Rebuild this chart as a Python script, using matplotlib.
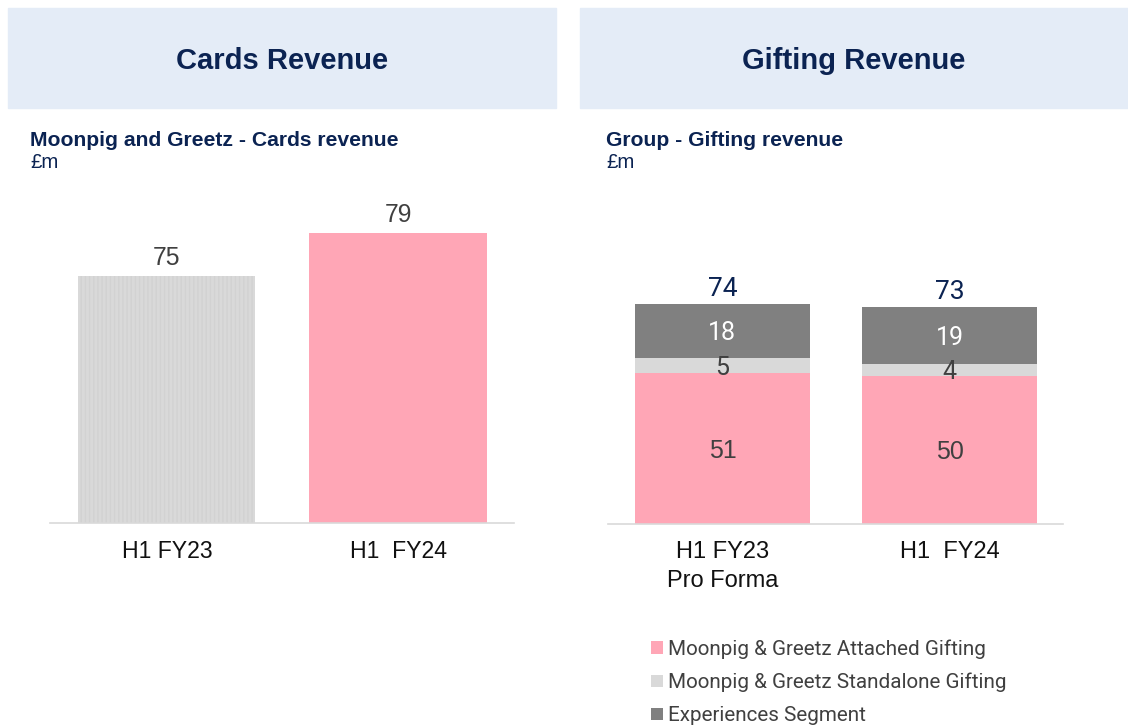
import numpy as np
import matplotlib.pyplot as plt
from matplotlib.patches import Rectangle

# data
card_periods = ["H1 FY23", "H1  FY24"]
card_values = [75, 79]
card_colors = ["#D9D9D9", "#FFA6B6"]

gift_periods = ["H1 FY23\nPro Forma", "H1  FY24"]
attached = [51, 50]
standalone = [5, 4]
experiences = [18, 19]
gift_totals = [74, 73]
gift_series = ["Moonpig & Greetz Attached Gifting",
               "Moonpig & Greetz Standalone Gifting",
               "Experiences Segment"]
gift_colors = ["#FFA6B6", "#D9D9D9", "#808080"]

NAVY = "#0B2352"
W, H = 1128, 727

fig = plt.figure(figsize=(W / 100, H / 100), dpi=100)


def fx(px):
    return px / W


def fy(py):
    return 1 - py / H


# header boxes
for x0, title in [(8, "Cards Revenue"), (580, "Gifting Revenue")]:
    fig.patches.append(Rectangle((fx(x0), fy(108)), fx(548), 100 / H,
                                 transform=fig.transFigure, color="#E4ECF7", zorder=0))
    fig.text(fx(x0 + 274), fy(58), title, ha="center", va="center_baseline",
             fontsize=21, fontweight="bold", color=NAVY, family="Liberation Sans")

for x0, sub in [(30, "Moonpig and Greetz - Cards revenue"), (606, "Group - Gifting revenue")]:
    fig.text(fx(x0), fy(138), sub, ha="left", va="center_baseline",
             fontsize=15.2, fontweight="bold", color=NAVY, family="Liberation Sans")
    fig.text(fx(x0), fy(161), "£m", ha="left", va="center_baseline",
             fontsize=14.7, color=NAVY, family="Liberation Sans")


def style_axis(ax):
    for s in ["top", "right", "left"]:
        ax.spines[s].set_visible(False)
    ax.spines["bottom"].set_color("#D9D9D9")
    ax.spines["bottom"].set_linewidth(1.2)
    ax.set_yticks([])
    ax.tick_params(axis="x", length=0, pad=12.5)


# cards chart
ax1 = fig.add_axes([fx(50), fy(523), fx(464), (523 - 180) / H])
x = np.arange(len(card_values))
bars = ax1.bar(x, card_values, width=0.766, color=card_colors)
bars[0].set_hatch("||||")
bars[0].set_edgecolor("#D2D2D2")
bars[0].set_linewidth(0)
ax1.set_xlim(-0.506, 1.502)
ax1.set_ylim(52, 52 + (523 - 180) / 10.75)
style_axis(ax1)
ax1.set_xticks(x, card_periods, fontsize=16.6, family="Liberation Sans", color="#111111")
for xi, v in zip(x, card_values):
    ax1.annotate(str(v), (xi, v), xytext=(0, 8), textcoords="offset points",
                 ha="center", va="baseline", fontsize=17.8, color="#404040",
                 family="Liberation Sans")

# gifting chart
ax2 = fig.add_axes([fx(608), fy(524), fx(455), (524 - 180) / H])
x2 = np.arange(len(attached))
bottoms = np.zeros(len(attached))
handles = []
for vals, col, name in zip([attached, standalone, experiences], gift_colors, gift_series):
    b = ax2.bar(x2, vals, width=0.771, bottom=bottoms, color=col, label=name)
    handles.append(b)
    txt_col = "white" if col == "#808080" else "#404040"
    fam = "Liberation Sans" if col == "#FFA6B6" else "Roboto"
    for xi, v, bt in zip(x2, vals, bottoms):
        ax2.text(xi, bt + v / 2, str(v), ha="center", va="center_baseline", fontsize=18,
                 color=txt_col, family=fam)
    bottoms = bottoms + np.array(vals)
for xi, t, top in zip(x2, gift_totals, bottoms):
    ax2.annotate(str(t), (xi, top), xytext=(0, 6), textcoords="offset points",
                 ha="center", va="baseline", fontsize=19, color=NAVY, family="Roboto")
ax2.set_xlim(-0.504, 1.5)
ax2.set_ylim(0, (524 - 180) / 2.97)
style_axis(ax2)
ax2.set_xticks(x2, gift_periods, fontsize=17, family="Liberation Sans", color="#111111",
               linespacing=1.4)

fig.legend(handles=handles, labels=gift_series, loc="upper left",
           bbox_to_anchor=(fx(643), fy(631)), frameon=False,
           prop={"family": "Roboto", "size": 14.9}, labelcolor="#404040",
           handlelength=0.55, handleheight=0.55, handletextpad=0.25,
           labelspacing=0.68, borderaxespad=0)

fig.savefig("out.png", dpi=100)
